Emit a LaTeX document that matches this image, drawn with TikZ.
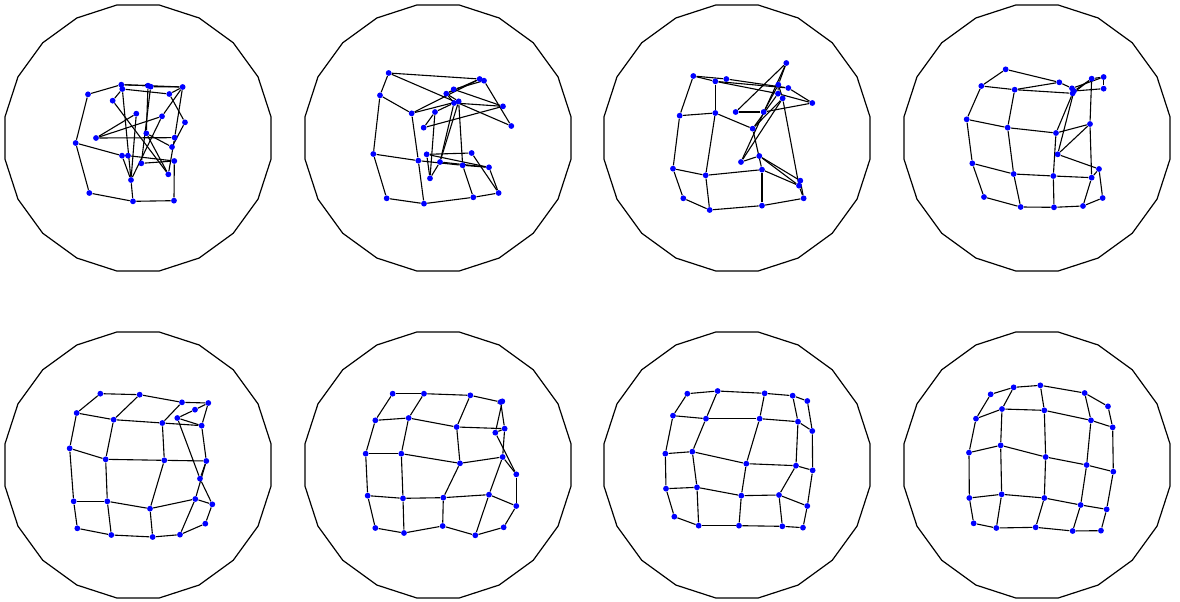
\documentclass[tikz,border=0pt]{standalone}
\usetikzlibrary{backgrounds}
\newcommand\gridedges[1]{%
  \foreach \r in {1,...,5}{%
    \foreach \c [evaluate=\c as \cc using int(\c+1)] in {1,...,4}{%
      \draw[edge] (#1-\r-\c) -- (#1-\r-\cc);
      \draw[edge] (#1-\c-\r) -- (#1-\cc-\r);
    }}}
\newcommand\rim[2]{%
  \draw[rimline] (#1,#2) +(9:134.7) \foreach \k in {1,...,19}{ -- +(9+18*\k:134.7)} -- cycle;}
\begin{document}
\begin{tikzpicture}[x=0.5pt,y=-0.5pt,
  dot/.style={circle,fill=blue,inner sep=0pt,minimum size=2.9pt},
  edge/.style={line width=0.55pt,black},
  rimline/.style={line width=0.6pt,black}]
\useasboundingbox (0,0) rectangle (1180,601);
\rim{138}{138}\rim{438}{138}\rim{737}{138}\rim{1037}{138}
\rim{138}{465}\rim{438}{465}\rim{737}{465}\rim{1037}{465}

% panel 1
\begin{scope}[shift={(60,70)},scale=0.3333]
\foreach \x/\y [count=\i] in {184/44,187/57,264/47,272/50,368/51,328/72,84/73,158/92,229/131,306/139,375/157,108/204,47/219,259/190,344/203,336/231,186/257,204/257,343/273,244/280,325/313,213/330,88/369,219/394,342/392}
  \node[dot] (a\i) at (\x,\y) {};
\end{scope}
\begin{scope}[on background layer]
\foreach \u/\v in {7/1,7/13,13/23,23/24,24/25,13/17,25/19,17/18,18/19,24/22,22/17,1/3,1/2,2/6,3/4,4/5,1/5,5/6,5/15,5/10,12/15,12/10,12/9,8/21,9/22,2/22,3/14,4/20,10/22,14/16,11/16,6/11,15/21,20/19,14/21,8/2}
  \draw[edge] (a\u) -- (a\v);
\end{scope}

% grid panels
\foreach \pn/\ox/\oy/\pts in {
 p2/355/60/{469/198,387/62,296/88,444/139,206/203,101/39,374/57,274/101,297/129,240/156,75/106,170/160,311/124,255/306,225/355,55/282,190/302,323/316,402/322,215/283,95/415,207/431,355/412,431/399,350/279},
 p3/655/55/{214/72,400/99,472/144,326/171,242/171,115/63,181/79,369/116,370/89,394/24,74/182,181/174,293/221,383/130,258/321,54/341,152/361,321/344,432/392,313/303,85/430,164/465,321/452,446/430,436/377},
 p4/950/60/{167/28,328/67,366/85,461/51,461/86,94/78,194/89,368/100,425/56,372/93,50/178,173/203,318/219,420/192,323/283,67/310,191/342,310/348,425/353,447/327,102/411,212/441,312/442,399/438,458/414},
 p5/55/380/{136/41,254/44,381/67,460/69,420/89,65/99,176/119,322/129,440/137,367/114,44/205,152/238,328/241,454/243,435/296,56/364,157/364,285/386,421/357,472/373,67/445,169/465,293/471,375/464,451/431},
 p6/355/380/{113/41,207/41,346/46,437/66,442/64,61/121,161/114,305/141,449/146,421/158,32/221,139/221,315/250,443/231,484/283,38/347,144/355,265/353,402/344,484/378,61/444,147/459,263/438,361/466,446/442},
 p7/655/380/{97/41,188/33,329/40,413/47,457/63,54/107,153/116,314/116,429/125,472/153,31/221,112/215,274/251,423/257,473/271,33/326,126/322,259/347,372/345,457/378,58/410,131/437,252/437,382/439,444/443},
 p8/955/375/{107/58,176/37,256/31,389/54,459/94,63/131,141/102,268/106,408/136,473/157,42/233,137/211,272/246,395/270,475/290,43/369,140/358,268/369,377/390,455/403,56/445,124/459,242/457,353/468,438/467}}{
  \begin{scope}[shift={(\ox,\oy)},scale=0.3333]
  \foreach \x/\y [count=\i from 0] in \pts {
    \pgfmathtruncatemacro\rr{div(\i,5)+1}
    \pgfmathtruncatemacro\cc{mod(\i,5)+1}
    \node[dot] (\pn-\rr-\cc) at (\x,\y) {};
  }
  \end{scope}
}
\begin{scope}[on background layer]
\gridedges{p2}\gridedges{p3}\gridedges{p4}\gridedges{p5}\gridedges{p6}\gridedges{p7}\gridedges{p8}
\end{scope}
\end{tikzpicture}
\end{document}
